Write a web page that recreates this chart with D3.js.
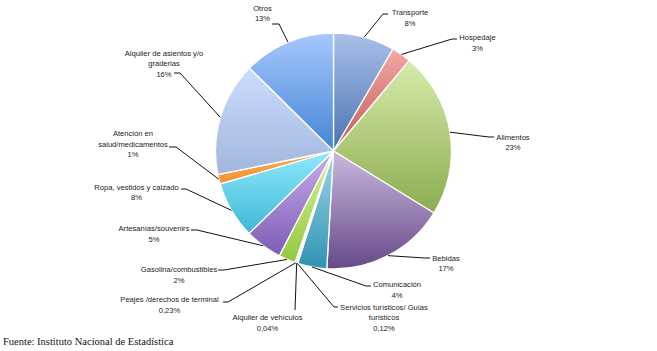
<!DOCTYPE html>
<html>
<head>
<meta charset="utf-8">
<script src="https://cdn.jsdelivr.net/npm/d3@7"></script>
<style>
  body { margin: 0; background: #fff; }
  svg { display: block; }
</style>
</head>
<body>
<div id="chart"></div>
<script>
// DATA (shares in %)
const categories = [
    "Transporte", "Hospedaje", "Alimentos", "Bebidas", "Comunicación",
    "Servicios turísticos/ Guías turísticos", "Alquiler de vehículos",
    "Peajes /derechos de terminal", "Gasolina/combustibles", "Artesanías/souvenirs",
    "Ropa, vestidos y calzado", "Atención en salud/medicamentos",
    "Alquiler de asientos y/o graderias", "Otros"
];
const values = [8.4, 2.7, 22.7, 17.1, 4.0, 0.12, 0.04, 0.23, 2.3, 5.1, 7.8, 1.3, 15.6, 12.6];
const valueLabels = ["8%", "3%", "23%", "17%", "4%", "0,12%", "0,04%", "0,23%", "2%", "5%", "8%", "1%", "16%", "13%"];
// how each category name is broken over lines
const nameLines = [
    ["Transporte"], ["Hospedaje"], ["Alimentos"], ["Bebidas"], ["Comunicación"],
    ["Servicios turísticos/ Guías", "turísticos"], ["Alquiler de vehículos"],
    ["Peajes /derechos de terminal"], ["Gasolina/combustibles"], ["Artesanías/souvenirs"],
    ["Ropa, vestidos y calzado"], ["Atención en", "salud/medicamentos"],
    ["Alquiler de asientos y/o", "graderias"], ["Otros"]
];
const source = "Fuente: Instituto Nacional de Estadística";

// slice colours: [top, bottom] of each gradient
const colors = [
    ["#a9c1ea", "#4a72b0"], ["#f2a8a6", "#c05a58"], ["#d7ebab", "#8aad4e"],
    ["#cbb9de", "#654a88"], ["#a0d6ea", "#2e93b2"], ["#ee7070", "#d04848"],
    ["#6a8cc0", "#3c5e94"], ["#f4b070", "#e08a3a"], ["#daf29a", "#92c83e"],
    ["#c8aeec", "#7c5cb4"], ["#8eeafc", "#3eb8d6"], ["#fbae5a", "#f49030"],
    ["#ccdcfc", "#a2b6de"], ["#a6c8fc", "#4484d6"]
];

// label layout: text centre x, first baseline y, leader start (ax, ay), elbow dx
const labelLayout = [
    { x: 410, y: 15, ax: 388, ay: 14, dx: -5 },
    { x: 477.5, y: 40, ax: 457, ay: 39, dx: -5 },
    { x: 513, y: 139.5, ax: 494, ay: 137, dx: -5 },
    { x: 446, y: 260.5, ax: 430, ay: 258, dx: -5 },
    { x: 397, y: 287, ax: 371, ay: 286, dx: -5 },
    { x: 384, y: 309.5, ax: 338, ay: 307, dx: -4 },
    { x: 267.5, y: 320, ax: 295, ay: 310, dx: 0 },
    { x: 169.5, y: 302, ax: 223, ay: 302, dx: 5 },
    { x: 179, y: 272, ax: 218, ay: 270, dx: 6 },
    { x: 154, y: 231, ax: 191, ay: 230, dx: 6 },
    { x: 136.5, y: 189.5, ax: 181, ay: 189, dx: 5 },
    { x: 133, y: 136, ax: 169, ay: 147, dx: 7 },
    { x: 164, y: 55.5, ax: 174, ay: 73, dx: 6 },
    { x: 262.5, y: 10.5, ax: 272, ay: 24, dx: 7 }
];

const width = 657, height = 351;
const cx = 333.5, cy = 151, radius = 118;
const lineHeight = 10.6;

const svg = d3.select("#chart").append("svg")
    .attr("width", width)
    .attr("height", height);

const rows = categories.map((c, i) => ({ name: c, value: values[i], i }));

const pie = d3.pie().value(d => d.value).sort(null);
const arc = d3.arc().innerRadius(0).outerRadius(radius);
const arcs = pie(rows);

// gradients
const defs = svg.append("defs");
colors.forEach((c, i) => {
    const g = defs.append("linearGradient")
        .attr("id", `grad${i}`)
        .attr("x1", 0).attr("y1", 0).attr("x2", 0).attr("y2", 1);
    g.append("stop").attr("offset", "0%").attr("stop-color", c[0]);
    g.append("stop").attr("offset", "100%").attr("stop-color", c[1]);
});

const pieG = svg.append("g")
    .attr("transform", `translate(${cx}, ${cy})`);

pieG.selectAll("path")
    .data(arcs)
    .enter()
    .append("path")
    .attr("d", arc)
    .attr("fill", d => `url(#grad${d.data.i})`)
    .attr("stroke", "#fff")
    .attr("stroke-width", 1.3)
    .attr("stroke-linejoin", "round");

// leader lines
const edgePoint = d => {
    const a = (d.startAngle + d.endAngle) / 2;
    return [cx + radius * Math.sin(a), cy - radius * Math.cos(a)];
};

svg.append("g")
    .selectAll("polyline")
    .data(arcs)
    .enter()
    .append("polyline")
    .attr("points", d => {
        const l = labelLayout[d.data.i];
        const p = edgePoint(d);
        return [[l.ax, l.ay], [l.ax + l.dx, l.ay], p].map(q => q.join(",")).join(" ");
    })
    .attr("fill", "none")
    .attr("stroke", "#111")
    .attr("stroke-width", 1);

// labels
const labels = svg.append("g")
    .selectAll("text")
    .data(arcs)
    .enter()
    .append("text")
    .attr("text-anchor", "middle")
    .style("font-family", "'Liberation Sans', Arial, sans-serif")
    .style("font-size", "7.6px")
    .attr("fill", "#222");

labels.each(function(d) {
    const l = labelLayout[d.data.i];
    const lines = nameLines[d.data.i].concat([valueLabels[d.data.i]]);
    d3.select(this).selectAll("tspan")
        .data(lines)
        .enter()
        .append("tspan")
        .attr("x", l.x)
        .attr("y", (t, k) => l.y + k * lineHeight)
        .text(t => t);
});

// source note
svg.append("text")
    .attr("x", 3)
    .attr("y", 344.5)
    .style("font-family", "'Liberation Serif', 'Times New Roman', serif")
    .style("font-size", "10.5px")
    .attr("fill", "#111")
    .text(source);
</script>
</body>
</html>
